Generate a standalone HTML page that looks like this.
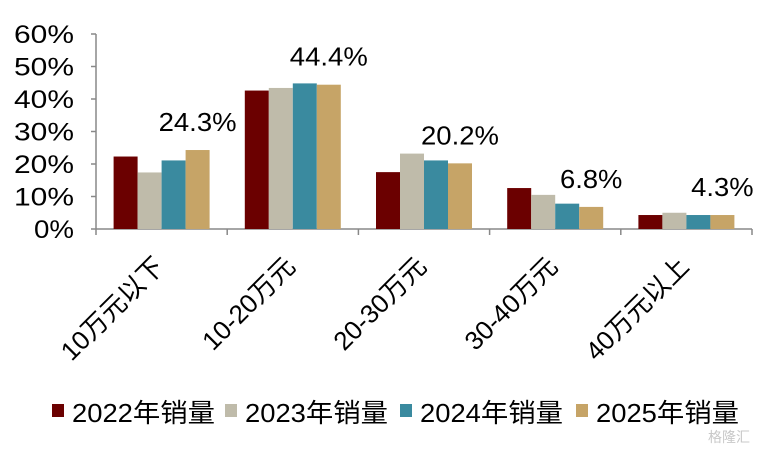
<!DOCTYPE html>
<html><head><meta charset="utf-8"><style>
body{margin:0;background:#fff;}
svg text{font-family:"Liberation Sans","Noto Sans CJK SC",sans-serif;fill:#000;}
</style></head><body>
<svg width="777" height="451" id="chart"></svg>
<script>
const categories=["10万元以下","10-20万元","20-30万元","30-40万元","40万元以上"];
const seriesNames=["2022年销量","2023年销量","2024年销量","2025年销量"];
const s2022=[22.3,42.6,17.5,12.6,4.3];
const s2023=[17.4,43.4,23.2,10.5,5.0];
const s2024=[21.1,44.8,21.1,7.8,4.3];
const s2025=[24.3,44.4,20.2,6.8,4.3];
const yTicks=[0,10,20,30,40,50,60];
const valueLabels=["24.3%","44.4%","20.2%","6.8%","4.3%"];
const colors=["#6B0000","#BFBBAA","#3A8A9F","#C6A467"];
const series=[s2022,s2023,s2024,s2025];
const NS="http://www.w3.org/2000/svg";
const svg=document.getElementById('chart');
const x0=96,x1=752,y0=229,yTop=34;
const gw=(x1-x0)/categories.length;
const yS=v=>y0-(v/60)*(y0-yTop);
function el(t,a){const e=document.createElementNS(NS,t);for(const k in a)e.setAttribute(k,a[k]);svg.appendChild(e);return e;}
let ax=el('line',{x1:x0,y1:yTop,x2:x0,y2:y0,stroke:'#888','stroke-width':1.5});


yTicks.forEach(t=>{
 const y=yS(t);
 const tk=el('line',{x1:x0-5,y1:y,x2:x0,y2:y,stroke:'#888','stroke-width':1.5});
 
 
 const lab=t+'%';
 const tx=el('text',{x:74,y:y+9,'text-anchor':'end','font-size':25,textLength:lab.length*20,lengthAdjust:'spacingAndGlyphs'});
 tx.textContent=lab;
 
 
});
const xa=el('line',{x1:x0,y1:y0,x2:x1,y2:y0,stroke:'#888','stroke-width':1.5});


for(let i=0;i<=categories.length;i++){
 const x=x0+i*gw;
 const tk=el('line',{x1:x,y1:y0,x2:x,y2:y0+6,stroke:'#888','stroke-width':1.5});
 
 
}
const bw=24;
categories.forEach((c,i)=>{
 const cx=x0+gw*(i+0.5);
 series.forEach((s,j)=>{
  const bx=cx-2*bw+j*bw, by=yS(s[i]);
  const r=el('rect',{x:bx,y:by,width:bw,height:y0-by,fill:colors[j]});
  
  
 });
 const lx=cx+bw*1.5, ly=yS(s2025[i])-19;
 const vl=el('text',{x:lx,y:ly,'text-anchor':'middle','font-size':26,textLength:valueLabels[i].length*15.6,lengthAdjust:'spacingAndGlyphs'});
 vl.textContent=valueLabels[i];
 
 
 const ex=cx+4, ey=268;
 const cl=el('text',{x:ex,y:ey,'text-anchor':'end','font-size':26,transform:`rotate(-45 ${ex} ${ey})`});
 cl.textContent=c;
 
 
});
const lxs=[52,225,400,576];
seriesNames.forEach((n,j)=>{
 const sq=el('rect',{x:lxs[j],y:404,width:12,height:13,fill:colors[j]});
 
 
 const t=el('text',{x:lxs[j]+20,y:422,'font-size':26,textLength:143,lengthAdjust:'spacingAndGlyphs'});
 t.textContent=n;
 
 
});
const wm=el('text',{x:708,y:442,'font-size':14});
wm.textContent='格隆汇';
wm.setAttribute('style','fill:#c8c8c8');


</script>
</body></html>
